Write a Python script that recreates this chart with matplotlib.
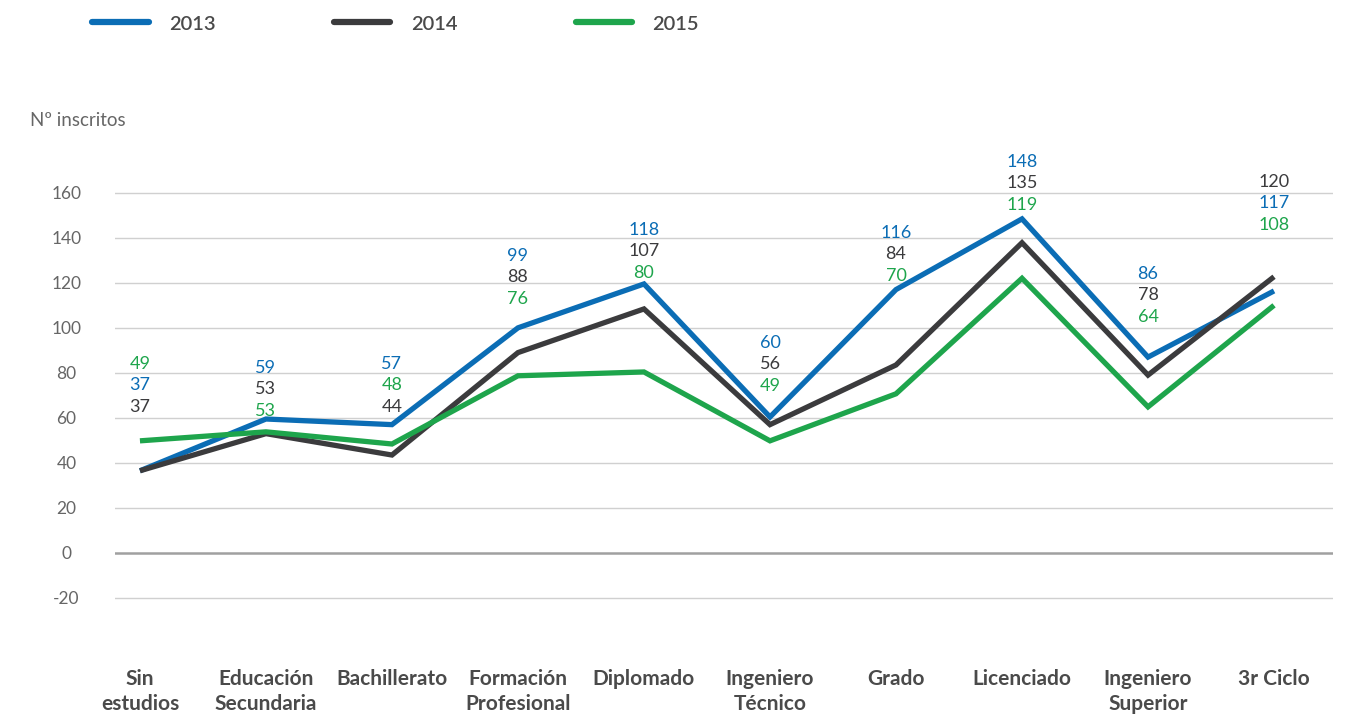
import matplotlib
matplotlib.use("Agg")
import matplotlib.pyplot as plt

categories = ["Sin\nestudios", "Educación\nSecundaria", "Bachillerato", "Formación\nProfesional",
              "Diplomado", "Ingeniero\nTécnico", "Grado", "Licenciado", "Ingeniero\nSuperior", "3r Ciclo"]
years = ["2013", "2014", "2015"]
# line values as drawn
v2013 = [36.5, 59.5, 57, 100, 119.5, 60.4, 117, 148.4, 87, 116.4]
v2014 = [36.5, 53, 43.5, 89, 108.4, 57, 83.5, 137.8, 79, 122.7]
v2015 = [49.8, 53.8, 48.4, 78.7, 80.4, 49.8, 70.7, 122, 64.9, 110]
# printed data labels
l2013 = [37, 59, 57, 99, 118, 60, 116, 148, 86, 117]
l2014 = [37, 53, 44, 88, 107, 56, 84, 135, 78, 120]
l2015 = [49, 53, 48, 76, 80, 49, 70, 119, 64, 108]
yticks = [-20, 0, 20, 40, 60, 80, 100, 120, 140, 160]

colors = ["#0b6db5", "#3b3b3d", "#1ea54c"]
label_top = [84.0, 82.2, 84.0, 132.0, 143.5, 93.3, 142.2, 173.8, 124.0, 164.9]

plt.rcParams['font.family'] = ['Lato', 'DejaVu Sans']

fig = plt.figure(figsize=(13.48, 7.16), dpi=100)
ax = fig.add_axes([115/1348, 73/716, (1333-115)/1348, (643-159)/716])
ax.set_xlim(-0.198, 9.468)
ax.set_ylim(-40, 175)

x = list(range(len(categories)))
series = [v2013, v2014, v2015]
labels = [l2013, l2014, l2015]
for vals, c, yr in zip(series, colors, years):
    ax.plot(x, vals, color=c, lw=3.8, solid_joinstyle='miter', solid_capstyle='butt', label=yr, zorder=3)

for i in x:
    order = sorted(range(3), key=lambda s: -labels[s][i])
    for k, s in enumerate(order):
        ax.annotate(str(labels[s][i]), xy=(i, label_top[i]), xytext=(0, -15.5*k),
                    textcoords='offset points', ha='center', va='center',
                    fontsize=13, color=colors[s], annotation_clip=False)

for t in yticks:
    if t == 0:
        ax.axhline(0, color='#a0a0a0', lw=1.8, zorder=2)
    else:
        ax.axhline(t, color='#d0d0d0', lw=1.0, zorder=1)

ax.set_yticks(yticks)
ax.set_yticklabels([str(t) for t in yticks], ha='center')
ax.tick_params(axis='y', length=0, pad=35, labelsize=12.5, labelcolor='#666666')
ax.set_xticks(x)
ax.set_xticklabels(categories, fontsize=15, fontweight='bold', color='#4a4a4a', linespacing=1.3, va='top')
ax.tick_params(axis='x', length=0, pad=19)
for sp in ax.spines.values():
    sp.set_visible(False)

fig.text(30/1348, 1-120/716, "Nº inscritos", fontsize=13.5, color='#666666', va='center', ha='left')

leg = fig.legend(loc='center left', bbox_to_anchor=(74/1348, 1-24/716), ncol=3, frameon=False,
                 fontsize=14.5, handlelength=2.8, handletextpad=1.0, columnspacing=5.9)
for h in leg.legend_handles:
    h.set_linewidth(4.5)
    h.set_solid_capstyle('round')
for t in leg.get_texts():
    t.set_color('#4a4a4a')
    t.set_fontweight('semibold')

fig.savefig("out.png", dpi=100)
